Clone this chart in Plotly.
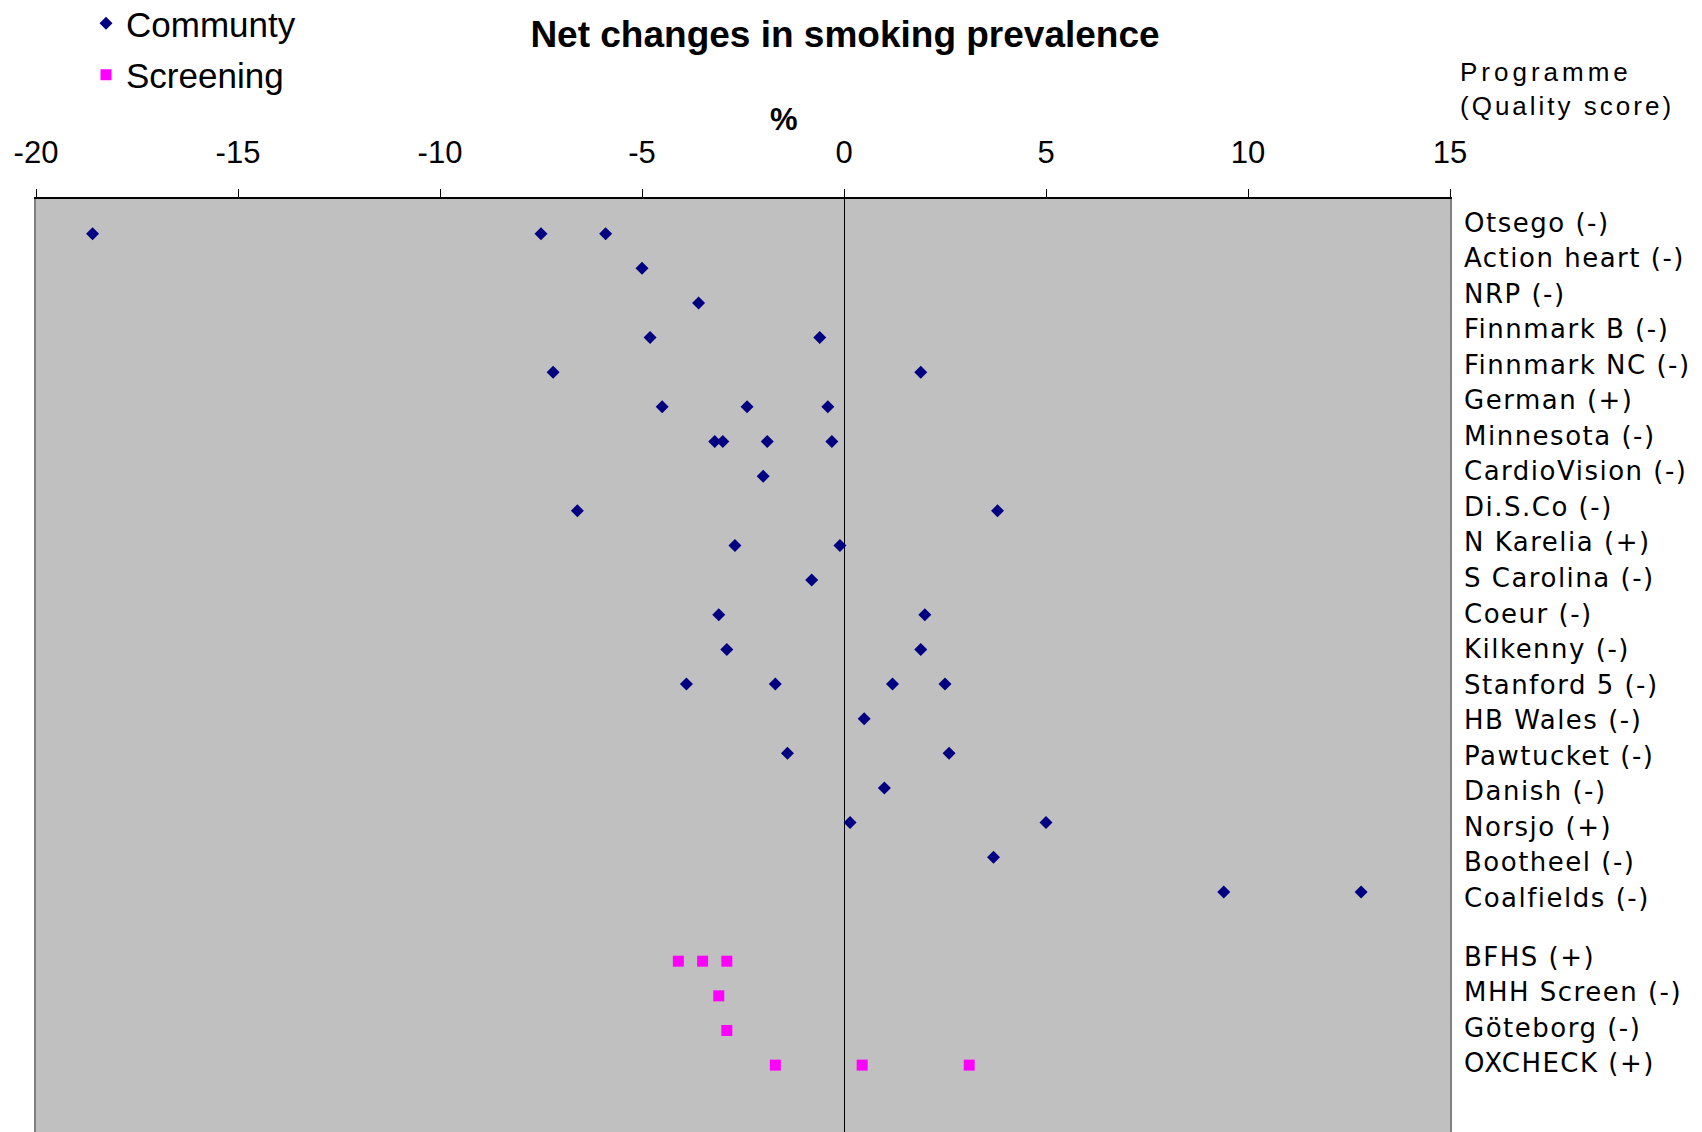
import plotly.graph_objects as go

# ---------------- data ----------------
community_programmes = [
    "Otsego (-)", "Action heart (-)", "NRP (-)", "Finnmark B (-)", "Finnmark NC (-)",
    "German (+)", "Minnesota (-)", "CardioVision (-)", "Di.S.Co (-)", "N Karelia (+)",
    "S Carolina (-)", "Coeur (-)", "Kilkenny (-)", "Stanford 5 (-)", "HB Wales (-)",
    "Pawtucket (-)", "Danish (-)", "Norsjo (+)", "Bootheel (-)", "Coalfields (-)",
]
community_changes = [
    [-18.6, -7.5, -5.9],
    [-5.0],
    [-3.6],
    [-4.8, -0.6],
    [-7.2, 1.9],
    [-4.5, -2.4, -0.4],
    [-3.2, -3.0, -1.9, -0.3],
    [-2.0],
    [-6.6, 3.8],
    [-2.7, -0.1],
    [-0.8],
    [-3.1, 2.0],
    [-2.9, 1.9],
    [-3.9, -1.7, 1.2, 2.5],
    [0.5],
    [-1.4, 2.6],
    [1.0],
    [0.15, 5.0],
    [3.7],
    [9.4, 12.8],
]
screening_programmes = ["BFHS (+)", "MHH Screen (-)", "Göteborg (-)", "OXCHECK (+)"]
screening_changes = [
    [-4.1, -3.5, -2.9],
    [-3.1],
    [-2.9],
    [-1.7, 0.45, 3.1],
]
x_tick_values = [-20, -15, -10, -5, 0, 5, 10, 15]
x_tick_labels = ["-20", "-15", "-10", "-5", "0", "5", "10", "15"]
legend_names = ["Communty", "Screening"]
title_text = "Net changes in smoking prevalence"
axis_unit = "%"
label_header = ["Programme", "(Quality score)"]

# ---------------- build rows ----------------
screen_offset = len(community_programmes) + 1  # one blank row between groups

cx, cy = [], []
for i, vals in enumerate(community_changes):
    for v in vals:
        cx.append(v)
        cy.append(i)
sx, sy = [], []
for j, vals in enumerate(screening_changes):
    for v in vals:
        sx.append(v)
        sy.append(screen_offset + j)

# the label text box on the right uses its own line spacing (blank line is a bit shorter)
LABEL_GAP = 1.65
label_rows = list(range(len(community_programmes))) + \
    [len(community_programmes) - 1 + LABEL_GAP + j for j in range(len(screening_programmes))]
label_texts = community_programmes + screening_programmes
label_texts_styled = ['<span style="letter-spacing:1.5px">%s</span>' % t for t in label_texts]

# ---------------- figure ----------------
W, H = 1702, 1132
ML, MR, MT, MB = 36, 252, 199, 0
PW, PH = W - ML - MR, H - MT - MB

def px_x(p):
    return (p - ML) / PW

def px_y(p):
    return (H - MB - p) / PH

fig = go.Figure()
fig.add_trace(go.Scatter(
    x=cx, y=cy, mode="markers", name=legend_names[0], legendgroup="c",
    marker=dict(symbol="diamond", size=10, color="#000080", line=dict(width=0)),
    hoverinfo="x+y",
))
fig.add_trace(go.Scatter(
    x=sx, y=sy, mode="markers", name=legend_names[1], legendgroup="s",
    marker=dict(symbol="square", size=11, color="#FF00FF", line=dict(width=0)),
    hoverinfo="x+y",
))
# invisible carrier trace so the right-hand label axis is drawn
fig.add_trace(go.Scatter(
    x=[None] * len(label_rows), y=label_rows, yaxis="y2", mode="markers",
    showlegend=False, hoverinfo="skip", marker=dict(opacity=0),
))

arial = "Liberation Sans, Arial, sans-serif"
fig.update_layout(
    width=W, height=H,
    margin=dict(l=ML, r=MR, t=MT, b=MB, pad=0, autoexpand=False),
    paper_bgcolor="white",
    plot_bgcolor="#C0C0C0",
    title=dict(text="<b>%s</b>" % title_text, x=845 / W, xanchor="center",
               y=1 - 34 / H, yanchor="middle",
               font=dict(family=arial, size=37, color="black")),
    showlegend=True,
    legend=dict(x=px_x(86), y=px_y(-6), xanchor="left", yanchor="top",
                font=dict(family=arial, size=35, color="black"),
                bgcolor="rgba(0,0,0,0)", tracegroupgap=3, itemclick=False),
    xaxis=dict(
        side="top", range=[-20, 15], tickmode="array",
        tickvals=x_tick_values, ticktext=x_tick_labels,
        ticks="outside", ticklen=8, tickwidth=1, tickcolor="black",
        showline=True, linecolor="black", linewidth=2, mirror=False,
        showgrid=False, zeroline=True, zerolinecolor="black", zerolinewidth=1,
        tickfont=dict(family=arial, size=31, color="black"),
        ticklabelstandoff=14,
    ),
    yaxis=dict(
        range=[25.93, -1.0], showticklabels=False, ticks="",
        showgrid=False, zeroline=False,
        showline=True, linecolor="#808080", linewidth=2, mirror=True,
    ),
    yaxis2=dict(
        overlaying="y", side="right", anchor="x",
        range=[25.59, -0.661], tickmode="array",
        tickvals=label_rows, ticktext=label_texts_styled,
        ticks="", showgrid=False, zeroline=False, showline=False,
        tickfont=dict(family="DejaVu Sans, Verdana, sans-serif", size=26, color="black"),
        ticklabelstandoff=13,
    ),
)

fig.add_annotation(
    xref="paper", yref="paper", x=px_x(784), y=px_y(119),
    text="<b>%s</b>" % axis_unit, showarrow=False, xanchor="center", yanchor="middle",
    font=dict(family=arial, size=31, color="black"),
)
fig.add_annotation(
    xref="paper", yref="paper", x=px_x(1458), y=px_y(89),
    text='<span style="letter-spacing:4px">%s</span><br><span style="letter-spacing:3px">%s</span>'
         % (label_header[0], label_header[1]),
    showarrow=False, xanchor="left", yanchor="middle", align="left",
    font=dict(family=arial, size=26, color="black"),
)

fig.write_html("out.html", config={"displayModeBar": False},
               post_script="document.body.style.margin='0px';")
